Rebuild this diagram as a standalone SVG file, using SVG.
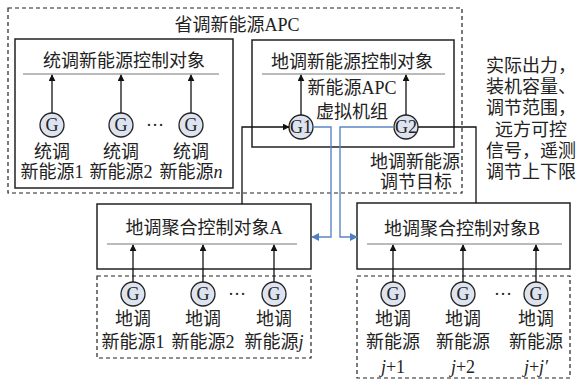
<svg xmlns="http://www.w3.org/2000/svg" width="578" height="382" viewBox="0 0 578 382">
<defs>
<marker id="ak" viewBox="0 0 10 10" refX="9" refY="5" markerWidth="7" markerHeight="7" markerUnits="userSpaceOnUse" orient="auto"><path d="M0,0L10,5L0,10z" fill="#111"/></marker>
<marker id="ab" viewBox="0 0 10 10" refX="9" refY="5" markerWidth="8" markerHeight="8" markerUnits="userSpaceOnUse" orient="auto"><path d="M0,0L10,5L0,10z" fill="#4f7fc0"/></marker>
<style>
text{font-family:"Liberation Serif","Noto Sans CJK SC",serif;font-size:18px;fill:#222;text-anchor:middle}
.box{fill:none;stroke:#222;stroke-width:1.5}
.dash{fill:none;stroke:#222;stroke-width:1.2;stroke-dasharray:4 3}
.sep{stroke:#777;stroke-width:1}
.g{fill:#dde3ef;stroke:#222;stroke-width:1.3}
.ar{stroke:#111;stroke-width:1.3;fill:none;marker-end:url(#ak)}
.bl{stroke:#5b87c5;stroke-width:1.4;fill:none;marker-end:url(#ab)}
.ln{stroke:#111;stroke-width:1.3;fill:none}
.it{font-style:italic}
</style>
</defs>
<g id="province">
<rect class="dash" x="8" y="8" width="454" height="185"/>
<text x="237" y="31">省调新能源APC</text>
</g>
<g id="unified">
<rect class="box" x="15" y="39" width="218" height="149"/>
<text x="124" y="67">统调新能源控制对象</text>
<line class="sep" x1="23" y1="74" x2="219" y2="74"/>
<circle class="g" cx="52" cy="125" r="12"/><text x="52" y="131">G</text>
<circle class="g" cx="121" cy="125" r="12"/><text x="121" y="131">G</text>
<circle class="g" cx="191" cy="125" r="12"/><text x="191" y="131">G</text>
<text x="155" y="126">…</text>
<text x="52" y="158">统调</text><text x="52" y="178">新能源1</text>
<text x="121" y="158">统调</text><text x="121" y="178">新能源2</text>
<text x="191" y="158">统调</text><text x="191" y="178">新能源<tspan class="it">n</tspan></text>
</g>
<g id="local">
<rect class="box" x="252" y="40" width="202" height="107"/>
<text x="352" y="68">地调新能源控制对象</text>
<line class="sep" x1="262" y1="74" x2="445" y2="74"/>
<text x="352" y="94">新能源APC</text>
<text x="352" y="118">虚拟机组</text>
</g>
<g id="G1"><circle class="g" cx="301" cy="127" r="12"/><text x="301" y="133">G1</text></g>
<g id="G2"><circle class="g" cx="406" cy="127" r="12"/><text x="406" y="133">G2</text></g>
<g id="target"><text x="415" y="168">地调新能源</text><text x="416" y="188">调节目标</text></g>
<g id="info">
<text x="531" y="72">实际出力，</text>
<text x="531" y="93">装机容量、</text>
<text x="531" y="114">调节范围，</text>
<text x="531" y="136">远方可控</text>
<text x="531" y="157">信号，遥测</text>
<text x="531" y="178">调节上下限</text>
</g>
<g id="aggA">
<rect class="box" x="97" y="204" width="214" height="65"/>
<text x="204" y="234">地调聚合控制对象A</text>
<line class="sep" x1="107" y1="244" x2="297" y2="244"/>
</g>
<g id="aggB">
<rect class="box" x="357" y="203" width="213" height="66"/>
<text x="462" y="235">地调聚合控制对象B</text>
<line class="sep" x1="367" y1="244" x2="562" y2="244"/>
</g>
<g id="groupA">
<rect class="dash" x="97" y="276" width="214" height="82"/>
<circle class="g" cx="133" cy="294" r="12"/><text x="133" y="300">G</text>
<circle class="g" cx="203" cy="294" r="12"/><text x="203" y="300">G</text>
<circle class="g" cx="274" cy="294" r="12"/><text x="274" y="300">G</text>
<text x="237" y="295">…</text>
<text x="133" y="325">地调</text><text x="133" y="348">新能源1</text>
<text x="203" y="325">地调</text><text x="203" y="348">新能源2</text>
<text x="274" y="325">地调</text><text x="274" y="348">新能源<tspan class="it">j</tspan></text>
</g>
<g id="groupB">
<rect class="dash" x="357" y="276" width="213" height="102"/>
<circle class="g" cx="393" cy="294" r="12"/><text x="393" y="300">G</text>
<circle class="g" cx="463" cy="294" r="12"/><text x="463" y="300">G</text>
<circle class="g" cx="536" cy="294" r="12"/><text x="536" y="300">G</text>
<text x="503" y="295">…</text>
<text x="393" y="325">地调</text><text x="393" y="348">新能源</text><text x="393" y="373"><tspan class="it">j</tspan>+1</text>
<text x="463" y="325">地调</text><text x="463" y="348">新能源</text><text x="463" y="373"><tspan class="it">j</tspan>+2</text>
<text x="536" y="325">地调</text><text x="536" y="348">新能源</text><text x="536" y="373"><tspan class="it">j</tspan>+<tspan class="it">j′</tspan></text>
</g>
<g id="connectors">
<line class="ar" x1="52" y1="113" x2="52" y2="75"/>
<line class="ar" x1="121" y1="113" x2="121" y2="75"/>
<line class="ar" x1="191" y1="113" x2="191" y2="75"/>
<line class="ar" x1="301" y1="115" x2="301" y2="75"/>
<line class="ar" x1="406" y1="115" x2="406" y2="75"/>
<polyline class="ar" points="242,204 242,127 289,127"/>
<polyline class="ln" points="418,127 476,127 476,203"/>
<polyline class="bl" points="313,127 331,127 331,237 312,237"/>
<polyline class="bl" points="394,127 340,127 340,237 357,237"/>
<line class="ar" x1="133" y1="282" x2="133" y2="245"/>
<line class="ar" x1="203" y1="282" x2="203" y2="245"/>
<line class="ar" x1="274" y1="282" x2="274" y2="245"/>
<line class="ar" x1="393" y1="282" x2="393" y2="245"/>
<line class="ar" x1="463" y1="282" x2="463" y2="245"/>
<line class="ar" x1="536" y1="282" x2="536" y2="245"/>
</g>
</svg>
